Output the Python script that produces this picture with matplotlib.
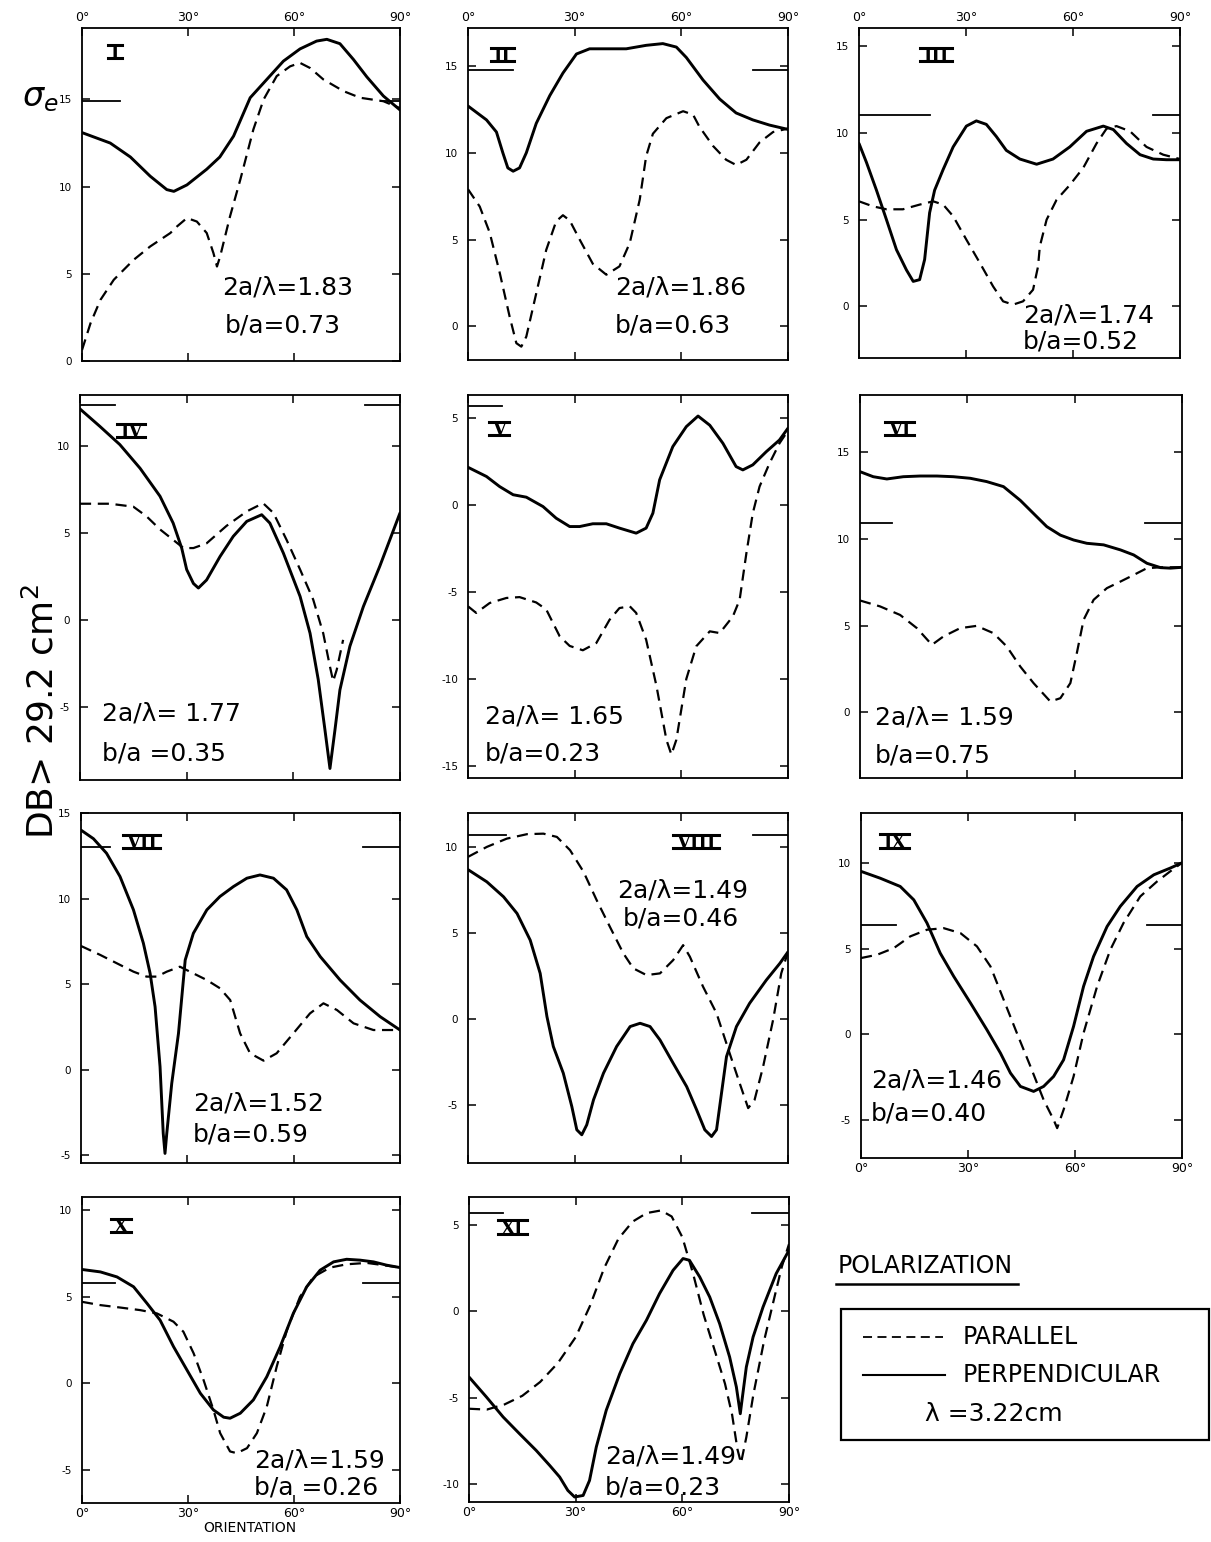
import matplotlib
matplotlib.use('Agg')
import matplotlib.pyplot as plt
from matplotlib.lines import Line2D
from matplotlib.patches import Rectangle

plt.rcParams['font.family'] = ['DejaVu Sans']
plt.rcParams['axes.unicode_minus'] = False

# ---------------- data (orientation in degrees, sigma_e in dB > 29.2 cm^2) -------------
I_perp_x = [0, 8, 13.7, 19.3, 24, 26, 29.7, 35.3, 39, 42.9, 47.6, 52.3, 57, 61.7, 66.4, 69.3, 73, 76.8, 80.6, 85.3, 90]
I_perp_y = [13.1, 12.5, 11.7, 10.6, 9.83, 9.73, 10.1, 11.0, 11.7, 12.9, 15.1, 16.15, 17.2, 17.9, 18.35, 18.45, 18.2, 17.3, 16.3, 15.2, 14.4]
I_par_x = [0, 2.4, 5.2, 9, 14.6, 19.3, 25, 26.9, 29.7, 32.5, 35.3, 37.2, 38.2, 39.1, 41.9, 44.8, 48.5, 51.4, 55.1, 58.9, 61.7, 64.6, 68.3, 74, 78.7, 85.3, 90]
I_par_y = [0.63, 2.16, 3.5, 4.66, 5.8, 6.57, 7.34, 7.72, 8.2, 8.0, 7.34, 6.19, 5.42, 6.0, 8.3, 10.4, 13.28, 15.0, 16.34, 16.9, 17.1, 16.8, 16.15, 15.48, 15.1, 14.9, 14.5]

II_perp_x = [0, 5.2, 8, 9.8, 11.2, 12.7, 14.5, 16.4, 19.2, 23, 26.7, 30.5, 34.2, 38.9, 44.5, 50.1, 54.8, 58.6, 61.4, 66.1, 70.8, 75.4, 80.1, 84.8, 90]
II_perp_y = [12.7, 11.9, 11.2, 10.0, 9.13, 8.94, 9.13, 10.0, 11.7, 13.3, 14.6, 15.7, 16.0, 16.0, 16.0, 16.2, 16.3, 16.1, 15.5, 14.2, 13.1, 12.3, 11.9, 11.6, 11.35]
II_par_x = [0, 3.3, 6.1, 8.9, 11.7, 13.6, 15, 16.4, 19.2, 22, 24.8, 26.7, 28.6, 31.4, 35.1, 38.9, 42.6, 45.5, 48.3, 50.1, 52, 55.8, 60.5, 63.3, 65.1, 68.9, 72.6, 75.4, 78.3, 82, 85.8, 90]
II_par_y = [7.9, 6.9, 5.4, 3.1, 0.56, -0.98, -1.18, -0.6, 1.9, 4.4, 6.05, 6.4, 6.1, 5.0, 3.6, 2.97, 3.45, 4.8, 7.3, 9.8, 11.1, 12.0, 12.4, 12.2, 11.5, 10.4, 9.6, 9.3, 9.6, 10.6, 11.2, 11.4]

III_perp_x = [0, 2.1, 4.9, 7.7, 10.5, 13.3, 15.2, 17, 18.4, 19.8, 21.2, 23.6, 26.4, 30.1, 32.9, 35.7, 38.5, 41.3, 45.1, 49.8, 54.4, 59.1, 63.8, 68.5, 71.3, 75, 78.8, 82.5, 86.2, 90]
III_perp_y = [9.4, 8.3, 6.7, 5.0, 3.27, 2.1, 1.44, 1.54, 2.7, 5.4, 6.7, 7.9, 9.2, 10.4, 10.7, 10.5, 9.8, 9.0, 8.5, 8.2, 8.5, 9.2, 10.1, 10.4, 10.2, 9.4, 8.75, 8.5, 8.46, 8.46]
III_par_x = [0, 3.9, 7.7, 12.3, 17, 20.8, 23.6, 26.4, 30.1, 33.9, 37.6, 40.4, 43.2, 46, 48.8, 50.2, 50.7, 52.6, 55.4, 59.1, 62.9, 66.6, 69.4, 72.2, 76, 80.6, 85.3, 90]
III_par_y = [6.06, 5.77, 5.6, 5.6, 5.87, 6.06, 5.87, 5.2, 3.85, 2.5, 1.15, 0.29, 0.1, 0.29, 0.96, 2.3, 3.46, 5.0, 6.15, 7.0, 8.0, 9.4, 10.25, 10.4, 10.1, 9.2, 8.75, 8.5]

IV_perp_x = [0, 5.6, 11.2, 16.9, 22.5, 26.2, 28.6, 30, 31.9, 33.3, 35.6, 39.4, 43.1, 46.9, 51.1, 53.4, 57.2, 61.9, 64.7, 67, 68.9, 70.3, 71.7, 73.1, 75.9, 79.7, 84.3, 90]
IV_perp_y = [12.1, 11.1, 10.06, 8.7, 7.1, 5.56, 4.13, 2.9, 2.1, 1.84, 2.3, 3.65, 4.8, 5.66, 6.04, 5.56, 3.84, 1.36, -0.75, -3.4, -6.3, -8.5, -6.3, -4.0, -1.5, 0.78, 3.08, 6.14]
IV_par_x = [0, 8.4, 15, 18.7, 22.5, 26.2, 29.1, 31.9, 35.6, 41.2, 46.9, 51.5, 54.4, 58.1, 61.9, 65.6, 68.4, 70.3, 71.2, 72.2, 74]
IV_par_y = [6.67, 6.67, 6.5, 5.95, 5.2, 4.6, 4.13, 4.13, 4.4, 5.4, 6.23, 6.7, 6.14, 4.6, 2.9, 1.17, -0.75, -2.66, -3.5, -2.85, -1.13]

V_perp_x = [0, 5.2, 8.9, 12.7, 16.4, 21.1, 24.8, 28.6, 31.4, 35.1, 38.9, 42.6, 47.3, 50.1, 52, 53.9, 57.6, 61.4, 64.7, 68, 71.7, 75.4, 77.3, 80.1, 83.9, 87.6, 90]
V_perp_y = [2.18, 1.65, 1.07, 0.6, 0.46, -0.08, -0.75, -1.23, -1.23, -1.07, -1.07, -1.32, -1.61, -1.32, -0.46, 1.46, 3.37, 4.52, 5.13, 4.6, 3.56, 2.22, 2.03, 2.32, 3.08, 3.75, 4.43]
V_par_x = [0, 2.3, 6.1, 10.8, 14.5, 19.2, 22, 25.8, 28.6, 32.3, 36.1, 39.8, 42.6, 45.5, 47.3, 50.1, 53, 55.8, 57.2, 58.6, 61.4, 64.2, 68, 70.8, 74.5, 76.4, 78.3, 80.1, 82, 84.8, 87.6, 89.5]
V_par_y = [-5.82, -6.2, -5.63, -5.34, -5.29, -5.6, -6.0, -7.55, -8.1, -8.35, -7.93, -6.6, -5.92, -5.82, -6.2, -7.74, -10.4, -13.5, -14.35, -13.5, -10.0, -8.12, -7.26, -7.36, -6.4, -5.44, -2.76, -0.46, 1.07, 2.41, 3.56, 4.14]

VI_perp_x = [0, 3.7, 7.5, 12.1, 16.8, 21.5, 26.1, 30.8, 35.4, 40.1, 44.8, 49.4, 52.2, 56, 59.7, 63.4, 68.1, 72.8, 76.5, 80.2, 84, 86.8, 90]
VI_perp_y = [13.85, 13.56, 13.43, 13.56, 13.6, 13.6, 13.56, 13.47, 13.28, 12.99, 12.2, 11.26, 10.69, 10.2, 9.92, 9.73, 9.64, 9.35, 9.06, 8.58, 8.33, 8.3, 8.35]
VI_par_x = [0, 5.6, 11.2, 15.9, 20.1, 23.3, 28, 32.6, 37.3, 41, 44.8, 48.5, 53.2, 56, 58.8, 60.6, 62.5, 65.3, 69, 72.8, 76.5, 80.2, 84, 90]
VI_par_y = [6.44, 6.1, 5.61, 4.85, 3.89, 4.37, 4.85, 4.98, 4.56, 3.8, 2.64, 1.69, 0.63, 0.82, 1.69, 3.41, 5.33, 6.48, 7.15, 7.53, 7.91, 8.3, 8.35, 8.35]

VII_perp_x = [0, 3.5, 7.2, 11, 14.8, 17.6, 19.5, 20.9, 22.3, 23.2, 23.7, 24.2, 25.6, 27.5, 29.4, 31.7, 35.5, 39.2, 43, 46.8, 50.5, 54.3, 58, 60.9, 63.7, 67.5, 73.1, 78.7, 84.4, 90]
VII_perp_y = [14.0, 13.5, 12.65, 11.29, 9.34, 7.39, 5.63, 3.68, 0.18, -3.72, -4.89, -3.72, -0.8, 2.12, 6.41, 7.97, 9.34, 10.12, 10.7, 11.19, 11.38, 11.19, 10.51, 9.34, 7.78, 6.61, 5.24, 4.07, 3.1, 2.32]
VII_par_x = [0, 5.4, 10.1, 14.8, 18.5, 21.4, 24.2, 27.9, 31.7, 35.5, 39.2, 42.1, 44.9, 47.7, 51.5, 55.2, 59.9, 64.6, 68.4, 72.2, 76.9, 82.5, 90]
VII_par_y = [7.23, 6.71, 6.22, 5.73, 5.44, 5.44, 5.73, 6.02, 5.63, 5.24, 4.76, 4.07, 2.12, 0.96, 0.53, 0.96, 2.12, 3.29, 3.88, 3.49, 2.71, 2.32, 2.32]

VIII_perp_x = [0, 5.3, 10, 13.8, 17.5, 20.3, 22.2, 24, 26.8, 29.2, 30.6, 32, 33.4, 35.3, 38.1, 41.8, 45.6, 48.4, 51.2, 54, 57.7, 61.5, 64.3, 66.6, 68.5, 69.9, 71.3, 72.7, 75.5, 79.2, 83.9, 87.7, 90]
VIII_perp_y = [8.68, 7.97, 7.1, 6.13, 4.58, 2.65, 0.14, -1.6, -3.15, -5.09, -6.44, -6.73, -6.15, -4.7, -3.15, -1.6, -0.44, -0.25, -0.44, -1.22, -2.57, -3.93, -5.28, -6.44, -6.83, -6.44, -4.31, -2.19, -0.44, 0.91, 2.26, 3.23, 3.9]
VIII_par_x = [0, 5.3, 10.9, 16.6, 21.2, 25, 28.7, 32.5, 36.2, 39.9, 43.7, 46.5, 50.2, 54, 57.7, 60.5, 62.4, 66.1, 69.9, 73.6, 76.4, 78.8, 80.6, 83, 85.8, 88.1, 90]
VIII_par_y = [9.42, 10.0, 10.48, 10.74, 10.77, 10.58, 9.81, 8.55, 6.9, 5.36, 3.81, 2.94, 2.55, 2.65, 3.42, 4.29, 3.62, 1.88, 0.33, -2.0, -3.73, -5.18, -4.7, -2.77, -0.06, 2.65, 3.9]

IX_perp_x = [0, 5.4, 11, 14.8, 18.5, 22.2, 26, 30.7, 35.3, 39.1, 41.9, 44.7, 48.4, 51.2, 54, 56.8, 59.6, 62.4, 65.2, 69, 72.7, 77.4, 82.1, 86.7, 90]
IX_perp_y = [9.5, 9.1, 8.62, 7.84, 6.49, 4.74, 3.38, 1.83, 0.27, -1.09, -2.25, -3.03, -3.32, -3.03, -2.45, -1.48, 0.47, 2.8, 4.54, 6.29, 7.46, 8.62, 9.3, 9.69, 10.0]
IX_par_x = [0, 4.5, 9.2, 13.8, 18.5, 23.2, 27.9, 32.5, 36.3, 40, 43.7, 47.5, 51.2, 54, 55, 56.8, 59.6, 62.4, 66.2, 69.9, 73.6, 78.3, 83, 86.7, 90]
IX_par_y = [4.45, 4.64, 5.03, 5.71, 6.1, 6.19, 5.9, 5.13, 3.96, 2.02, 0.08, -1.86, -3.81, -4.97, -5.46, -4.39, -2.45, 0.08, 2.8, 4.93, 6.49, 8.04, 8.91, 9.5, 10.0]

X_perp_x = [0, 5.2, 9.9, 14.6, 18.4, 22.1, 25.9, 29.7, 33.5, 37.2, 40.1, 41.9, 44.8, 48.5, 52.3, 56.1, 59.8, 63.6, 67.4, 71.2, 74.9, 78.7, 82.5, 86.2, 90]
X_perp_y = [6.58, 6.44, 6.15, 5.58, 4.62, 3.65, 2.12, 0.77, -0.58, -1.54, -1.96, -2.02, -1.73, -0.96, 0.38, 2.12, 4.04, 5.58, 6.54, 7.02, 7.17, 7.12, 7.02, 6.83, 6.69]
X_par_x = [0, 5.2, 10.8, 16.5, 21.2, 25.9, 28.7, 31.6, 34.4, 37.2, 39.1, 41.9, 43.8, 46.7, 49.5, 52.3, 55.1, 58, 61.7, 65.5, 70.2, 74.9, 80.6, 85.3, 90]
X_par_y = [4.71, 4.52, 4.38, 4.23, 4.04, 3.56, 2.98, 1.73, 0.19, -1.54, -2.88, -3.94, -4.04, -3.75, -2.88, -1.35, 0.96, 3.08, 5.0, 6.15, 6.69, 6.88, 6.96, 6.83, 6.69]

XI_perp_x = [0, 4.9, 9.6, 14.2, 18.9, 22.7, 25.5, 27.8, 29.7, 32.1, 33.9, 35.8, 38.6, 42.4, 46.1, 49.9, 53.6, 57.4, 60.2, 62, 64.9, 67.7, 70.5, 73.3, 75.2, 76.3, 76.9, 78, 79.9, 82.7, 86.4, 90]
XI_perp_y = [-3.81, -4.97, -6.13, -7.1, -8.07, -8.94, -9.61, -10.39, -10.77, -10.68, -9.81, -7.87, -5.74, -3.62, -1.88, -0.52, 1.03, 2.38, 3.06, 2.96, 1.99, 0.83, -0.72, -2.65, -4.39, -5.94, -4.97, -3.23, -1.49, 0.25, 2.19, 3.54]
XI_par_x = [0, 5, 10, 15, 20, 25, 30, 34, 38, 42, 46, 50, 54, 57, 60, 63, 66, 69, 72, 74, 75.5, 76.5, 78, 80, 83, 86, 88, 90]
XI_par_y = [-5.65, -5.7, -5.4, -4.9, -4.1, -3.0, -1.5, 0.3, 2.5, 4.2, 5.2, 5.7, 5.85, 5.5, 4.3, 2.2, -0.2, -2.2, -4.2, -6.0, -8.0, -8.8, -7.3, -4.8, -1.7, 0.9, 2.6, 3.9]

panel_names = ['I', 'II', 'III', 'IV', 'V', 'VI', 'VII', 'VIII', 'IX', 'X', 'XI']
size_ratio = ['2a/λ=1.83', '2a/λ=1.86', '2a/λ=1.74', '2a/λ= 1.77', '2a/λ= 1.65', '2a/λ= 1.59',
              '2a/λ=1.52', '2a/λ=1.49', '2a/λ=1.46', '2a/λ=1.59', '2a/λ=1.49']
axis_ratio = ['b/a=0.73', 'b/a=0.63', 'b/a=0.52', 'b/a =0.35', 'b/a=0.23', 'b/a=0.75',
              'b/a=0.59', 'b/a=0.46', 'b/a=0.40', 'b/a =0.26', 'b/a=0.23']
ref_level = [14.9, 14.8, 11.06, 12.3, 5.71, 10.88, 13.03, 10.68, 6.36, 5.81, 5.68]
x_ticks = [0, 30, 60, 90]
x_tick_labels = ['0°', '30°', '60°', '90°']

# ---------------- layout -------------
W, H = 1211, 1542
fig = plt.figure(figsize=(W / 100, H / 100), dpi=100)

def px_rect(l, t, r, b):
    return [l / W, 1 - b / H, (r - l) / W, (b - t) / H]

layout = {
    'I':    dict(rect=(82, 28, 400, 361),   ylim=(0, 19.1),      xlab='top',    lab=(0.09, 0.91),  txt=((0.44, 0.22), (0.45, 0.108)), stubs=((0, 0.12), (0.94, 1))),
    'II':   dict(rect=(468, 28, 788, 360),  ylim=(-1.95, 17.2),  xlab='top',    lab=(0.08, 0.90),  txt=((0.46, 0.217), (0.46, 0.105)), stubs=((0, 0.14), (0.89, 1))),
    'III':  dict(rect=(859, 28, 1180, 358), ylim=(-2.98, 16.06), xlab='top',    lab=(0.20, 0.90),  txt=((0.51, 0.13), (0.51, 0.05)),   stubs=((0, 0.22), (0.915, 1))),
    'IV':   dict(rect=(80, 395, 400, 780),  ylim=(-9.16, 12.9),  xlab=None,     lab=(0.125, 0.89), txt=((0.07, 0.174), (0.07, 0.07)),  stubs=((0, 0.11), (0.89, 1))),
    'V':    dict(rect=(468, 395, 788, 778), ylim=(-15.7, 6.34),  xlab=None,     lab=(0.075, 0.895), txt=((0.053, 0.16), (0.053, 0.065)), stubs=((0, 0.105),)),
    'VI':   dict(rect=(860, 395, 1182, 778), ylim=(-3.77, 18.26), xlab=None,    lab=(0.087, 0.895), txt=((0.047, 0.157), (0.047, 0.06)), stubs=((0, 0.10), (0.885, 1))),
    'VII':  dict(rect=(81, 813, 400, 1163), ylim=(-5.45, 15.0),  xlab=None,     lab=(0.14, 0.90),  txt=((0.35, 0.17), (0.35, 0.08)),   stubs=((0, 0.09), (0.885, 1))),
    'VIII': dict(rect=(468, 813, 788, 1163), ylim=(-8.37, 11.97), xlab=None,    lab=(0.65, 0.90),  txt=((0.465, 0.78), (0.485, 0.70)), stubs=((0, 0.12), (0.89, 1))),
    'IX':   dict(rect=(861, 813, 1182, 1158), ylim=(-7.2, 12.9), xlab='bottom', lab=(0.07, 0.90),  txt=((0.03, 0.226), (0.03, 0.13)),  stubs=((0, 0.11), (0.89, 1))),
    'X':    dict(rect=(82, 1197, 400, 1503), ylim=(-6.92, 10.77), xlab='bottom', lab=(0.10, 0.885), txt=((0.54, 0.14), (0.54, 0.05)),  stubs=((0, 0.105), (0.885, 1))),
    'XI':   dict(rect=(469, 1197, 789, 1502), ylim=(-11.06, 6.63), xlab='bottom', lab=(0.10, 0.88), txt=((0.425, 0.148), (0.425, 0.046)), stubs=((0, 0.105), (0.885, 1))),
}

series = {
    'I': (I_perp_x, I_perp_y, I_par_x, I_par_y),
    'II': (II_perp_x, II_perp_y, II_par_x, II_par_y),
    'III': (III_perp_x, III_perp_y, III_par_x, III_par_y),
    'IV': (IV_perp_x, IV_perp_y, IV_par_x, IV_par_y),
    'V': (V_perp_x, V_perp_y, V_par_x, V_par_y),
    'VI': (VI_perp_x, VI_perp_y, VI_par_x, VI_par_y),
    'VII': (VII_perp_x, VII_perp_y, VII_par_x, VII_par_y),
    'VIII': (VIII_perp_x, VIII_perp_y, VIII_par_x, VIII_par_y),
    'IX': (IX_perp_x, IX_perp_y, IX_par_x, IX_par_y),
    'X': (X_perp_x, X_perp_y, X_par_x, X_par_y),
    'XI': (XI_perp_x, XI_perp_y, XI_par_x, XI_par_y),
}

DASH = (0, (5, 3))
ROMAN_FS = 13
roman_texts = []
for i, name in enumerate(panel_names):
    L = layout[name]
    ax = fig.add_axes(px_rect(*L['rect']))
    px_, py_, qx_, qy_ = series[name]
    ax.plot(px_, py_, color='black', lw=2.1, solid_capstyle='round', solid_joinstyle='round')
    ax.plot(qx_, qy_, color='black', lw=1.6, linestyle=DASH)
    ax.set_xlim(0, 90)
    ax.set_ylim(*L['ylim'])
    lo, hi = L['ylim']
    yt = [v for v in range(-20, 25, 5) if lo <= v <= hi]
    ax.set_yticks(yt)
    ax.set_yticklabels([str(v) for v in yt])
    ax.set_xticks(x_ticks)
    if L['xlab'] == 'top':
        ax.set_xticklabels(x_tick_labels)
        ax.tick_params(axis='x', labeltop=True, labelbottom=False)
    elif L['xlab'] == 'bottom':
        ax.set_xticklabels(x_tick_labels)
        ax.tick_params(axis='x', labeltop=False, labelbottom=True)
    else:
        ax.tick_params(axis='x', labeltop=False, labelbottom=False)
    ax.tick_params(axis='both', direction='in', length=6, width=1.1, top=True, right=True)
    ax.tick_params(axis='y', labelsize=7.5, pad=7)
    ax.tick_params(axis='x', labelsize=9, pad=3)
    for sp in ax.spines.values():
        sp.set_linewidth(1.3)
    for (a, b) in L['stubs']:
        ax.axhline(ref_level[i], xmin=a, xmax=b, color='black', lw=1.3)
    t = ax.text(L['lab'][0], L['lab'][1], name, transform=ax.transAxes, fontsize=ROMAN_FS,
                family='DejaVu Serif', weight='bold', ha='left', va='baseline')
    roman_texts.append((ax, t))
    (x1, y1), (x2, y2) = L['txt']
    ax.text(x1, y1, size_ratio[i], transform=ax.transAxes, fontsize=18, ha='left', va='center')
    ax.text(x2, y2, axis_ratio[i], transform=ax.transAxes, fontsize=18, ha='left', va='center')

# axis labels
fig.text(40 / W, 1 - 98 / H, r'$\sigma_e$', fontsize=24, ha='center', va='center')
fig.text(42 / W, 1 - 712 / H, r'DB> 29.2 cm$^2$', fontsize=26, rotation=90, ha='center', va='center')
fig.text(250 / W, 1 - 1528 / H, 'ORIENTATION', fontsize=10, ha='center', va='center')

# legend block
LFS = 17
fig.text(838 / W, 1 - 1266 / H, 'POLARIZATION', fontsize=LFS, ha='left', va='center')
fig.add_artist(Line2D([836 / W, 1018 / W], [1 - 1284 / H, 1 - 1284 / H], color='black', lw=1.8))
fig.add_artist(Rectangle((841 / W, 1 - 1440 / H), (1209 - 841) / W, (1440 - 1309) / H,
                         fill=False, edgecolor='black', lw=1.6, transform=fig.transFigure))
fig.add_artist(Line2D([863 / W, 943 / W], [1 - 1337 / H, 1 - 1337 / H], color='black', lw=1.3, linestyle=(0, (5, 3))))
fig.add_artist(Line2D([863 / W, 945 / W], [1 - 1375 / H, 1 - 1375 / H], color='black', lw=1.5))
fig.text(963 / W, 1 - 1337 / H, 'PARALLEL', fontsize=LFS, ha='left', va='center')
fig.text(963 / W, 1 - 1375 / H, 'PERPENDICULAR', fontsize=LFS, ha='left', va='center')
fig.text(925 / W, 1 - 1414 / H, 'λ =3.22cm', fontsize=18, ha='left', va='center')

# bars above/below roman numerals
fig.canvas.draw()
r = fig.canvas.get_renderer()
inv = fig.transFigure.inverted()
for ax, t in roman_texts:
    bb = t.get_window_extent(r)
    base = ax.transAxes.transform(t.get_position())[1]
    cap = ROMAN_FS * 0.73 * 100 / 72
    (fx0, fy0) = inv.transform((bb.x0 - 3, base))
    (fx1, fy1) = inv.transform((bb.x1 + 3, base + cap))
    fig.add_artist(Line2D([fx0, fx1], [fy0, fy0], color='black', lw=2.2))
    fig.add_artist(Line2D([fx0, fx1], [fy1, fy1], color='black', lw=2.2))

fig.savefig('out.png', dpi=100)
